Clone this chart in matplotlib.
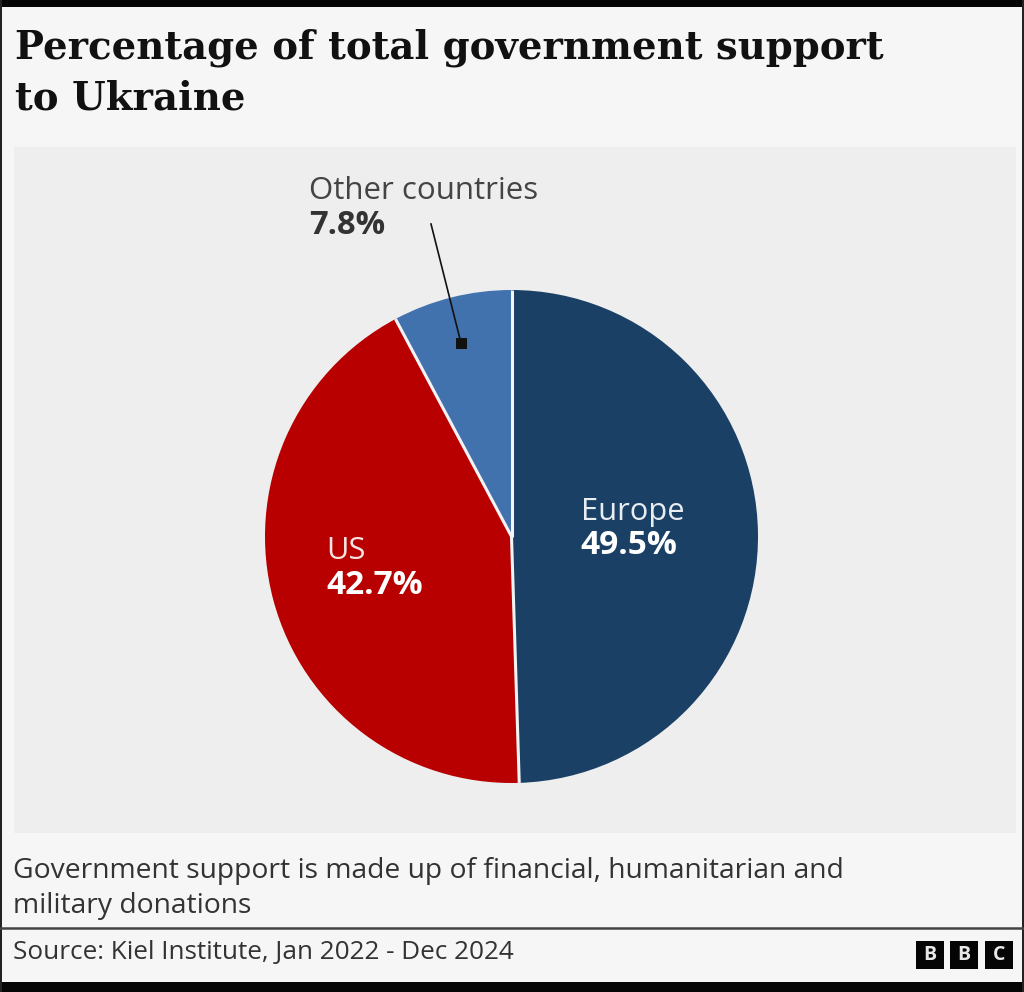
import matplotlib

matplotlib.use("Agg")
import matplotlib.pyplot as plt
import numpy as np
from matplotlib.patches import Rectangle

categories = ["Europe", "US", "Other countries"]
shares = [49.5, 42.7, 7.8]
share_labels = ["49.5%", "42.7%", "7.8%"]
colors = ["#1a4066", "#b80000", "#4272ae"]

W, H = 1024, 992
plt.rcParams["font.family"] = ["Open Sans", "DejaVu Sans"]

fig = plt.figure(figsize=(W / 100, H / 100), dpi=100, facecolor="#f6f6f6")
bg = fig.add_axes([0, 0, 1, 1])
bg.set_xlim(0, W)
bg.set_ylim(H, 0)
bg.axis("off")

# frame and panels, in pixels
bg.add_patch(Rectangle((14, 147), 1002, 686, color="#eeeeee", lw=0))
bg.add_patch(Rectangle((0, 0), W, 7, color="#050505", lw=0))
bg.add_patch(Rectangle((0, 982), W, 10, color="#050505", lw=0))
bg.add_patch(Rectangle((0, 0), 2, H, color="#222222", lw=0))
bg.add_patch(Rectangle((1022, 0), 2, H, color="#222222", lw=0))
bg.plot([0, W], [928, 928], color="#444444", lw=1.8)

bg.text(15, 48, "Percentage of total government support", fontsize=27.8, family=["DejaVu Serif"],
        weight="bold", color="#111111", va="center")
bg.text(15, 99, "to Ukraine", fontsize=27.8, family=["DejaVu Serif"],
        weight="bold", color="#111111", va="center")

bg.text(13, 871, "Government support is made up of financial, humanitarian and", fontsize=20.3, color="#333333", va="center")
bg.text(13, 906, "military donations", fontsize=20.3, color="#333333", va="center")
bg.text(13, 952, "Source: Kiel Institute, Jan 2022 - Dec 2024", fontsize=18.8, color="#333333", va="center")

for i, letter in enumerate("BBC"):
    x = 916 + i * 34.3
    bg.add_patch(Rectangle((x, 941), 28, 28, color="#050505", lw=0))
    bg.text(x + 14, 955, letter, fontsize=14, weight="bold", color="#e8e8e8", ha="center", va="center")

# pie, placed so that its circle spans the reference extent
pie_ax = fig.add_axes([265 / W, 1 - 783 / H, 493 / W, 493 / H])
wedges, _ = pie_ax.pie(shares, colors=colors, startangle=90, counterclock=False, radius=1)
pie_ax.set_xlim(-1, 1)
pie_ax.set_ylim(-1, 1)
pie_ax.set_aspect("equal")

# separators only between slices, the outer rim has no outline
for w in wedges:
    a = np.deg2rad(w.theta2)
    pie_ax.plot([0, np.cos(a)], [0, np.sin(a)], color="#f4f4f4", lw=2.2, solid_capstyle="butt")

bg.set_zorder(0)
pie_ax.set_zorder(1)
over = fig.add_axes([0, 0, 1, 1], zorder=2)
over.set_xlim(0, W)
over.set_ylim(H, 0)
over.axis("off")
over.patch.set_alpha(0)

over.text(581, 512, categories[0], fontsize=22.2, color="#e8edf2", va="center")
over.text(580, 546, share_labels[0], fontsize=24, weight="bold", color="white", va="center")
over.text(326, 551, categories[1], fontsize=22.2, color="#f4e4e4", va="center")
over.text(326, 585, share_labels[1], fontsize=24, weight="bold", color="white", va="center")
over.text(309, 191, categories[2], fontsize=22.5, color="#444444", va="center")
over.text(309, 226, share_labels[2], fontsize=23.6, weight="bold", color="#333333", va="center")

over.plot([431, 461], [224, 343], color="#111111", lw=1.2)
over.add_patch(Rectangle((455.5, 337.5), 11, 11, color="#111111", lw=0))

fig.savefig("out.png", dpi=100, facecolor=fig.get_facecolor())
